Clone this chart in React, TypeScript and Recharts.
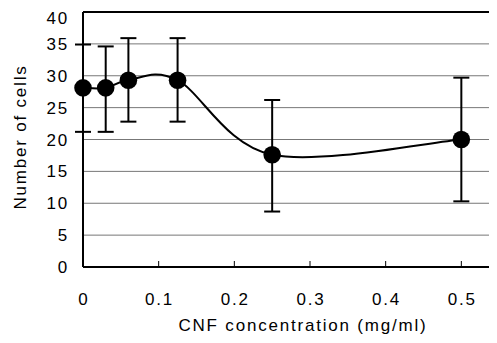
import React from "react";
import { LineChart, Line, XAxis, YAxis, CartesianGrid, ErrorBar, ReferenceLine } from "recharts";

const concentrations = [0, 0.03, 0.06, 0.125, 0.25, 0.5];
const cellCounts = [28.1, 28.1, 29.3, 29.3, 17.6, 20.0];
const errLow = [6.9, 6.9, 6.5, 6.5, 8.9, 9.7];
const errHigh = [6.8, 6.5, 6.6, 6.6, 8.6, 9.7];
const xTicks = [0, 0.1, 0.2, 0.3, 0.4, 0.5];
const yTicks = [0, 5, 10, 15, 20, 25, 30, 35, 40];

const data = concentrations.map((x, i) => ({ x, y: cellCounts[i], err: [errLow[i], errHigh[i]] }));

const FONT = "'Liberation Sans', Arial, sans-serif";
const FS = 17;
const LS = 1.8;
const X_TICK_MARGIN = 26;

// Excel-like smoothed line (Catmull-Rom through every point)
const smoothCurve = (ctx: any) => {
  let pts: number[][] = [];
  return {
    areaStart() {},
    areaEnd() {},
    lineStart() { pts = []; },
    point(x: number, y: number) { pts.push([+x, +y]); },
    lineEnd() {
      if (!pts.length) return;
      ctx.moveTo(pts[0][0], pts[0][1]);
      const k = 1 / 6;
      for (let i = 0; i < pts.length - 1; i++) {
        const p0 = pts[i - 1] || pts[i];
        const p1 = pts[i];
        const p2 = pts[i + 1];
        const p3 = pts[i + 2] || p2;
        ctx.bezierCurveTo(
          p1[0] + (p2[0] - p0[0]) * k, p1[1] + (p2[1] - p0[1]) * k,
          p2[0] - (p3[0] - p1[0]) * k, p2[1] - (p3[1] - p1[1]) * k,
          p2[0], p2[1]
        );
      }
    },
  };
};

const XTick = (props: any) => {
  const { x, y, payload } = props;
  const axisY = y - X_TICK_MARGIN;
  return (
    <g>
      {payload.value !== 0 && <line x1={x} x2={x} y1={axisY} y2={axisY - 6} stroke="#000" strokeWidth={1} />}
      <text x={x + LS / 2} y={y} dy="0.71em" textAnchor="middle" fill="#000" fontSize={FS} letterSpacing={LS} fontFamily={FONT}>
        {payload.value}
      </text>
    </g>
  );
};

export default function App() {
  return (
    <div style={{ width: 489, height: 335, overflow: "hidden" }}>
      <LineChart width={529} height={335} data={data} margin={{ top: 4, right: 0, bottom: 16, left: 0 }}>
        <CartesianGrid horizontal vertical={false} stroke="#777" />
        <XAxis
          type="number"
          dataKey="x"
          domain={[0, 0.6]}
          ticks={xTicks}
          height={60}
          tickSize={0}
          tickMargin={X_TICK_MARGIN}
          tickLine={false}
          axisLine={{ stroke: "#000", strokeWidth: 2 }}
          tick={<XTick />}
          label={{
            content: () => (
              <text x={295} y={317} dy="0.35em" textAnchor="middle" fontSize={FS} letterSpacing={LS} fontFamily={FONT} fill="#000">
                CNF concentration (mg/ml)
              </text>
            ),
          }}
        />
        <YAxis
          type="number"
          domain={[0, 40]}
          ticks={yTicks}
          width={75}
          tickSize={0}
          tickMargin={14}
          tickLine={false}
          axisLine={{ stroke: "#000", strokeWidth: 2 }}
          tick={{ fill: "#000", fontSize: FS, fontFamily: FONT, letterSpacing: LS }}
          label={{
            content: () => (
              <text x={12} y={129} dy="0.35em" textAnchor="middle" transform="rotate(-90 12 129)" fontSize={FS} letterSpacing={LS} fontFamily={FONT} fill="#000">
                Number of cells
              </text>
            ),
          }}
        />
        <ReferenceLine y={40} stroke="#000" strokeWidth={2} />
        <Line
          dataKey="y"
          type={smoothCurve as any}
          stroke="#000"
          strokeWidth={2}
          dot={{ r: 8.8, fill: "#000", stroke: "#000", strokeWidth: 0 }}
          activeDot={false}
          isAnimationActive={false}
        >
          <ErrorBar dataKey="err" direction="y" width={8} stroke="#000" strokeWidth={2} isAnimationActive={false} />
        </Line>
      </LineChart>
    </div>
  );
}
